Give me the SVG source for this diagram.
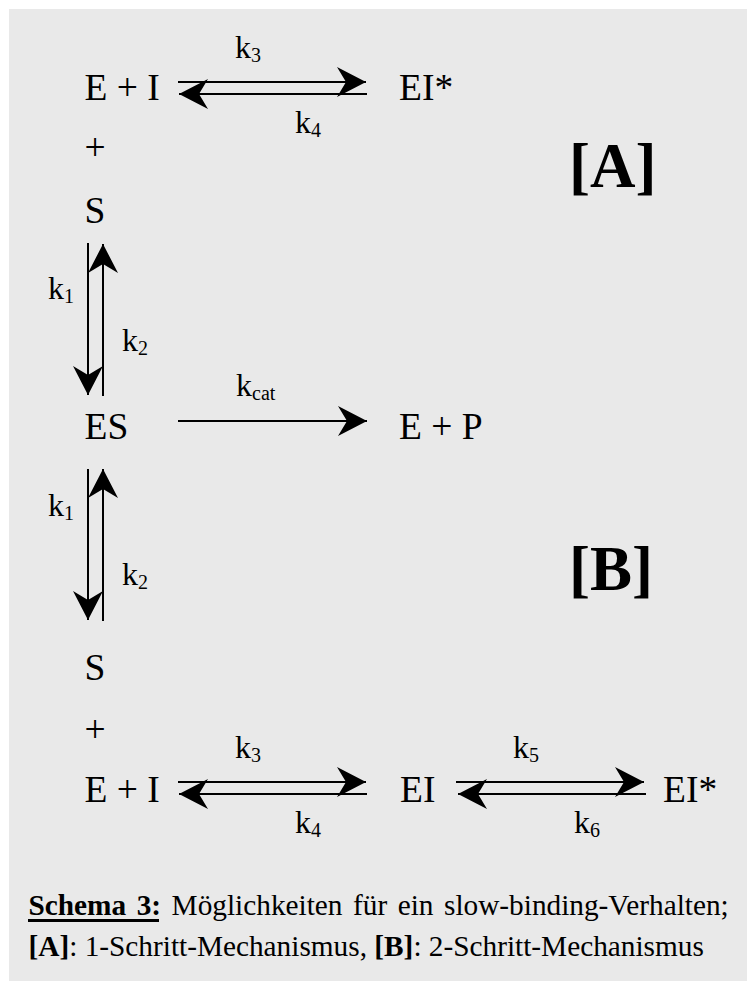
<svg xmlns="http://www.w3.org/2000/svg" width="747" height="981" viewBox="0 0 747 981">
<style>
text{font-family:"Liberation Serif","Times New Roman",serif;fill:#000}
.n{font-size:37.500px}
.k{font-size:32px}
.s{font-size:20px}
.big{font-size:63px;font-weight:bold}
.cap{font-size:29.300px}
.b{font-weight:bold}
.l{stroke:#000;stroke-width:2;fill:none}
</style>
<defs>
<marker id="h" markerUnits="userSpaceOnUse" markerWidth="32" markerHeight="32" refX="29" refY="15" orient="auto" viewBox="0 0 32 30"><path d="M0 0L29 15L0 30L9 15Z" fill="#000"/></marker>
</defs>
<rect x="9" y="9" width="738" height="972" fill="#e9e9e9"/>
<g id="connectors">
<path class="l" d="M178 82H366" marker-end="url(#h)"/>
<path class="l" d="M367 94H179" marker-end="url(#h)"/>
<path class="l" d="M88 243V395" marker-end="url(#h)"/>
<path class="l" d="M103 396V244" marker-end="url(#h)"/>
<path class="l" d="M178 421H367" marker-end="url(#h)"/>
<path class="l" d="M88 469V620" marker-end="url(#h)"/>
<path class="l" d="M103 621V469" marker-end="url(#h)"/>
<path class="l" d="M178 782H366" marker-end="url(#h)"/>
<path class="l" d="M367 794H179" marker-end="url(#h)"/>
<path class="l" d="M456 782H644" marker-end="url(#h)"/>
<path class="l" d="M646 794H458" marker-end="url(#h)"/>
</g>
<g id="n-ei-top"><text class="n" x="84.500" y="100">E + I</text></g>
<g id="n-eistar-top"><text class="n" x="399" y="100">EI*</text></g>
<g id="n-plus-top"><text class="n" x="84.500" y="160">+</text></g>
<g id="n-s-top"><text class="n" x="84.500" y="223">S</text></g>
<g id="n-es"><text class="n" x="84.500" y="439">ES</text></g>
<g id="n-ep"><text class="n" x="399" y="439">E + P</text></g>
<g id="n-s-bot"><text class="n" x="84.500" y="680">S</text></g>
<g id="n-plus-bot"><text class="n" x="84.500" y="742">+</text></g>
<g id="n-ei-bot"><text class="n" x="84.500" y="802">E + I</text></g>
<g id="n-ei-mid"><text class="n" x="400" y="802">EI</text></g>
<g id="n-eistar-bot"><text class="n" x="663" y="802">EI*</text></g>
<g id="labels">
<text class="k" x="235" y="58">k<tspan class="s" dy="4">3</tspan></text>
<text class="k" x="295" y="133">k<tspan class="s" dy="4">4</tspan></text>
<text class="k" x="48" y="299">k<tspan class="s" dy="4">1</tspan></text>
<text class="k" x="122" y="351">k<tspan class="s" dy="4">2</tspan></text>
<text class="k" x="236" y="396">k<tspan class="s" dy="4">cat</tspan></text>
<text class="k" x="48" y="516">k<tspan class="s" dy="4">1</tspan></text>
<text class="k" x="122" y="585">k<tspan class="s" dy="4">2</tspan></text>
<text class="k" x="235" y="758">k<tspan class="s" dy="4">3</tspan></text>
<text class="k" x="295" y="833">k<tspan class="s" dy="4">4</tspan></text>
<text class="k" x="513" y="758">k<tspan class="s" dy="4">5</tspan></text>
<text class="k" x="574" y="833">k<tspan class="s" dy="4">6</tspan></text>
</g>
<g id="n-a"><text class="big" x="569" y="187">[A]</text></g>
<g id="n-b"><text class="big" x="569" y="590">[B]</text></g>
<g id="caption">
<text class="cap" x="28.500" y="915" word-spacing="3.200"><tspan class="b">Schema 3:</tspan> Möglichkeiten für ein slow-binding-Verhalten;</text>
<rect x="28" y="919" width="131" height="3" fill="#000"/>
<text class="cap" x="28.500" y="956"><tspan class="b">[A]</tspan>: 1-Schritt-Mechanismus, <tspan class="b">[B]</tspan>: 2-Schritt-Mechanismus</text>
</g>
</svg>
